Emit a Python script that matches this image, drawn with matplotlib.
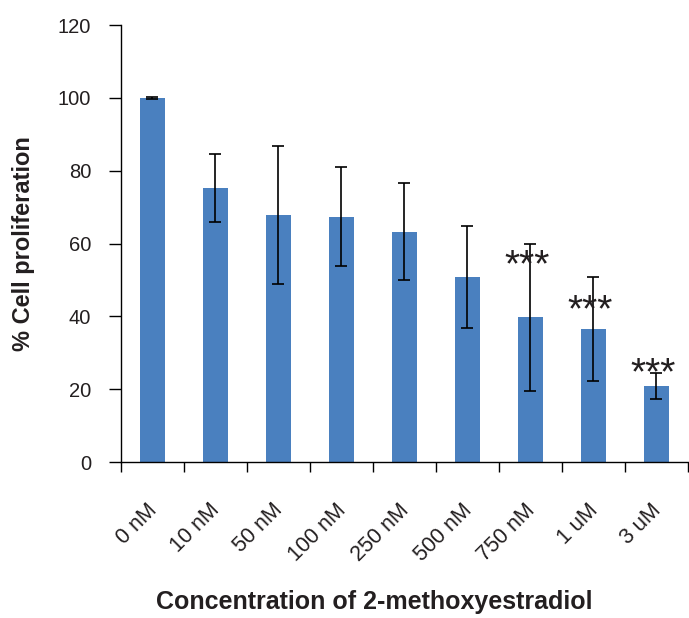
# Bar chart: % cell proliferation vs 2-methoxyestradiol concentration
import numpy as np
import matplotlib
matplotlib.use("Agg")
import matplotlib.pyplot as plt

plt.rcParams["font.family"] = ["Liberation Sans", "DejaVu Sans"]

# --------- data ---------------------------------
concentrations = ["0 nM", "10 nM", "50 nM", "100 nM", "250 nM",
                  "500 nM", "750 nM", "1 uM", "3 uM"]
proliferation = [100.0, 75.3, 67.9, 67.4, 63.3, 50.7, 39.8, 36.5, 20.9]
errors = [0.3, 9.3, 19.0, 13.6, 13.3, 14.0, 20.2, 14.3, 3.5]
significance = ["", "", "", "", "", "", "***", "***", "***"]
star_y = [0, 0, 0, 0, 0, 0, 53.8, 41.4, 24.2]
y_ticks = [0, 20, 40, 60, 80, 100, 120]

BAR_COLOR = "#4a80bf"
TEXT_COLOR = "#231f20"

fig = plt.figure(figsize=(6.89, 6.18), dpi=100)
ax = fig.add_axes([0.1756, 0.2524, 0.8229, 0.7071])

x = np.arange(len(concentrations))
ax.bar(x, proliferation, width=0.4, color=BAR_COLOR, zorder=2)
ax.errorbar(x, proliferation, yerr=errors, fmt="none", ecolor="black",
            elinewidth=1.2, capsize=4.5, capthick=1.2, zorder=3)

for xi, lab, sy in zip(x, significance, star_y):
    if lab:
        ax.text(xi - 0.05, sy, lab, ha="center", va="center",
                fontsize=28, color=TEXT_COLOR, zorder=4)

ax.set_xlim(-0.5, len(concentrations) - 0.5)
ax.set_ylim(0, 120)
ax.set_yticks(y_ticks)
ax.tick_params(axis="y", direction="out", length=8.5, width=1,
               labelsize=14.5, labelcolor=TEXT_COLOR, pad=13)

# category boundary ticks, rotated labels near the centres
ax.set_xticks(np.arange(-0.5, len(concentrations), 1.0))
ax.set_xticklabels([])
ax.set_xticks(x - 0.1, minor=True)
ax.set_xticklabels(concentrations, minor=True, rotation=45, ha="right",
                   va="top", rotation_mode="anchor", fontsize=15.5,
                   color=TEXT_COLOR)
ax.tick_params(axis="x", which="major", direction="out", length=7, width=1)
ax.tick_params(axis="x", which="minor", length=0, pad=27)

ax.spines["top"].set_visible(False)
ax.spines["right"].set_visible(False)
ax.spines["left"].set_linewidth(1)
ax.spines["bottom"].set_linewidth(1)

ax.set_ylabel("% Cell proliferation", fontsize=17, fontweight="bold",
              color=TEXT_COLOR)
ax.yaxis.set_label_coords(-0.152, 0.5)

fig.text(374 / 689, 1 - 609 / 618, "Concentration of 2-methoxyestradiol",
         ha="center", va="baseline", fontsize=18, fontweight="bold",
         color=TEXT_COLOR)

fig.savefig("out.png", dpi=100)
